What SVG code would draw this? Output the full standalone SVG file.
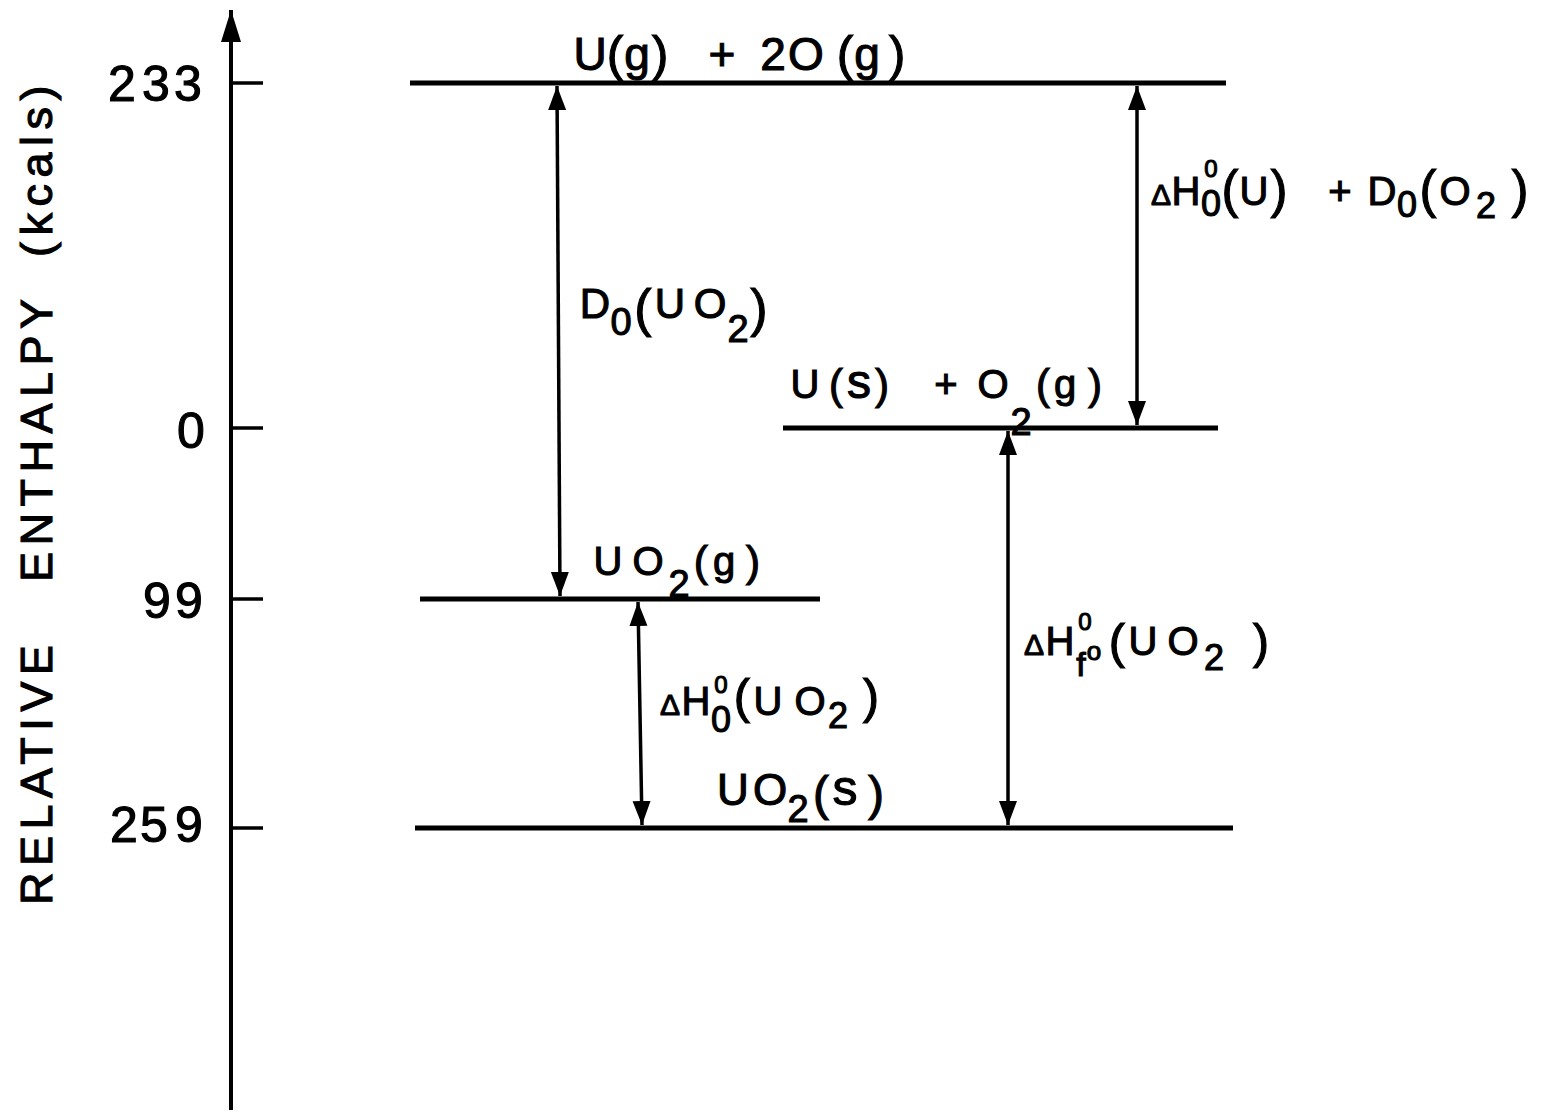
<svg xmlns="http://www.w3.org/2000/svg" width="1544" height="1113" viewBox="0 0 1544 1113">
<style>
.lvl{stroke:#000;stroke-width:5;fill:none}
.arr{stroke:#000;stroke-width:3.5;fill:none;marker-start:url(#ah);marker-end:url(#ah)}
.ax{stroke:#000;stroke-width:4;fill:none;marker-end:url(#axh)}
.tick{stroke:#000;stroke-width:3.5}
text{font-family:"Liberation Sans",Arial,sans-serif;fill:#000;stroke:#000;stroke-width:1.1;text-anchor:middle}
.num{font-size:50px}
.ylab{font-size:45px;text-anchor:start;letter-spacing:6.5px}
.l46{font-size:46px}
.l44{font-size:44px}
.l42{font-size:42px}
.l40{font-size:40px}
</style>
<defs>
<marker id="ah" markerUnits="userSpaceOnUse" markerWidth="26" markerHeight="20" viewBox="0 0 26 20" refX="24" refY="9" orient="auto-start-reverse"><path d="M0,0 L24,9 L0,18 z" fill="#000"/></marker>
<marker id="axh" markerUnits="userSpaceOnUse" markerWidth="34" markerHeight="22" viewBox="0 0 34 22" refX="32" refY="10" orient="auto"><path d="M0,0 L32,10 L0,20 z" fill="#000"/></marker>
</defs>

<g id="axis">
<line class="ax" x1="231" y1="1110" x2="231" y2="10"/>
<line class="tick" x1="231" y1="83" x2="263" y2="83"/>
<line class="tick" x1="231" y1="428" x2="263" y2="428"/>
<line class="tick" x1="231" y1="599" x2="263" y2="599"/>
<line class="tick" x1="231" y1="828" x2="263" y2="828"/>
<text class="num" x="122 156 188" y="101">233</text>
<text class="num" x="191" y="448">0</text>
<text class="num" x="157 189" y="618">99</text>
<text class="num" x="124 154 189" y="842">259</text>
<text class="ylab" transform="translate(52,905) rotate(-90)"><tspan x="0" y="0">RELATIVE </tspan><tspan x="323" y="0">ENTHALPY </tspan><tspan x="648" y="0">(kcals)</tspan></text>
</g>

<g id="level-ug-2og">
<line class="lvl" x1="410" y1="83" x2="1226" y2="83"/>
<text class="l46"><tspan x="590" y="70">U</tspan><tspan x="615" y="71" font-size="50">(</tspan><tspan x="637" y="70">g</tspan><tspan x="660" y="71" font-size="50">)</tspan><tspan x="689" y="70"> </tspan><tspan x="722" y="70">+</tspan><tspan x="748" y="70"> </tspan><tspan x="773" y="70">2</tspan><tspan x="806" y="70">O</tspan><tspan x="845" y="71" font-size="50">(</tspan><tspan x="867" y="70">g</tspan><tspan x="897" y="71" font-size="50">)</tspan></text>
</g>

<g id="level-us-o2g">
<line class="lvl" x1="783" y1="428" x2="1218" y2="428"/>
<text class="l40"><tspan x="805" y="398">U</tspan><tspan x="836" y="399" font-size="42">(</tspan><tspan x="859" y="398" font-size="48">s</tspan><tspan x="882" y="399" font-size="42">)</tspan><tspan x="914" y="398"> </tspan><tspan x="946" y="398">+</tspan><tspan x="970" y="398"> </tspan><tspan x="993" y="398">O</tspan><tspan x="1021" y="435" font-size="38">2</tspan><tspan x="1043" y="399" font-size="42">(</tspan><tspan x="1065" y="398">g</tspan><tspan x="1095" y="399" font-size="42">)</tspan></text>
</g>

<g id="level-uo2g">
<line class="lvl" x1="420" y1="599" x2="820" y2="599"/>
<text class="l40"><tspan x="608" y="575">U</tspan><tspan x="648" y="575">O</tspan><tspan x="679" y="597" font-size="38">2</tspan><tspan x="701" y="576" font-size="43">(</tspan><tspan x="724" y="575">g</tspan><tspan x="753" y="576" font-size="43">)</tspan></text>
</g>

<g id="level-uo2s">
<line class="lvl" x1="415" y1="828" x2="1233" y2="828"/>
<text class="l44"><tspan x="733" y="805">U</tspan><tspan x="770" y="805">O</tspan><tspan x="798" y="822" font-size="38">2</tspan><tspan x="821" y="810" font-size="48">(</tspan><tspan x="845" y="805" font-size="50">s</tspan><tspan x="876" y="810" font-size="48">)</tspan></text>
</g>

<g id="connectors">
<line class="arr" x1="557" y1="86" x2="560" y2="596"/>
<line class="arr" x1="1137" y1="86" x2="1137" y2="425"/>
<line class="arr" x1="638" y1="602" x2="642" y2="825"/>
<line class="arr" x1="1008" y1="431" x2="1008" y2="825"/>
<text class="l42"><tspan x="595" y="318">D</tspan><tspan x="621" y="335" font-size="38">0</tspan><tspan x="643" y="326" font-size="52">(</tspan><tspan x="670" y="318">U</tspan><tspan x="710" y="318">O</tspan><tspan x="738" y="342" font-size="38">2</tspan><tspan x="759" y="326" font-size="52">)</tspan></text>
<text class="l40"><tspan x="1161" y="205" font-size="30">Δ</tspan><tspan x="1186" y="205">H</tspan><tspan x="1211" y="177" font-size="24">0</tspan><tspan x="1211" y="216" font-size="36">0</tspan><tspan x="1230" y="207" font-size="51">(</tspan><tspan x="1254" y="205">U</tspan><tspan x="1279" y="207" font-size="51">)</tspan><tspan x="1305" y="205"> </tspan><tspan x="1340" y="205">+</tspan><tspan x="1362" y="205"> </tspan><tspan x="1382" y="205">D</tspan><tspan x="1407" y="217" font-size="36">0</tspan><tspan x="1428" y="207" font-size="51">(</tspan><tspan x="1455" y="205">O</tspan><tspan x="1486" y="218" font-size="36">2</tspan><tspan x="1520" y="207" font-size="51">)</tspan></text>
<text class="l40"><tspan x="670" y="715" font-size="30">Δ</tspan><tspan x="696" y="715">H</tspan><tspan x="721" y="693" font-size="24">0</tspan><tspan x="721" y="732" font-size="36">0</tspan><tspan x="742" y="713" font-size="49">(</tspan><tspan x="768" y="715">U</tspan><tspan x="810" y="715">O</tspan><tspan x="838" y="728" font-size="36">2</tspan><tspan x="871" y="713" font-size="49">)</tspan></text>
<text class="l40"><tspan x="1034" y="655" font-size="30">Δ</tspan><tspan x="1060" y="655">H</tspan><tspan x="1085" y="630" font-size="24">0</tspan><tspan x="1081" y="676" font-size="34">f</tspan><tspan x="1094" y="660" font-size="26">o</tspan><tspan x="1117" y="658" font-size="49">(</tspan><tspan x="1143" y="655">U</tspan><tspan x="1183" y="655">O</tspan><tspan x="1214" y="670" font-size="36">2</tspan><tspan x="1261" y="658" font-size="49">)</tspan></text>
</g>
</svg>
